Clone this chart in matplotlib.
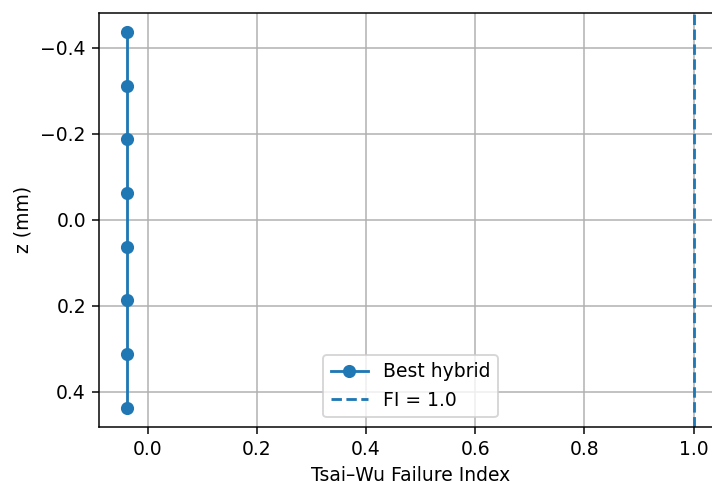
import matplotlib

matplotlib.use("Agg")
import matplotlib.pyplot as plt
import numpy as np

# ply mid-plane positions (mm) and Tsai-Wu index per ply
z_mm = [-0.4375, -0.3125, -0.1875, -0.0625, 0.0625, 0.1875, 0.3125, 0.4375]
failure_index = [-0.037, -0.037, -0.037, -0.037, -0.037, -0.037, -0.037, -0.037]
fi_limit = 1.0

DPI = 135
fig = plt.figure(figsize=(712 / DPI, 481 / DPI), dpi=DPI)
ax = fig.add_axes([99 / 712, 1 - 426.7 / 481, 623 / 712, 413.7 / 481])

ax.plot(failure_index, z_mm, marker="o", label="Best hybrid")
ax.axvline(fi_limit, linestyle="--", label="FI = 1.0")

ax.invert_yaxis()
ax.set_xlabel("Tsai\u2013Wu Failure Index")
ax.set_ylabel("z (mm)")
ax.grid(True)
ax.legend(loc="lower center")

fig.savefig("out.png", dpi=DPI)
